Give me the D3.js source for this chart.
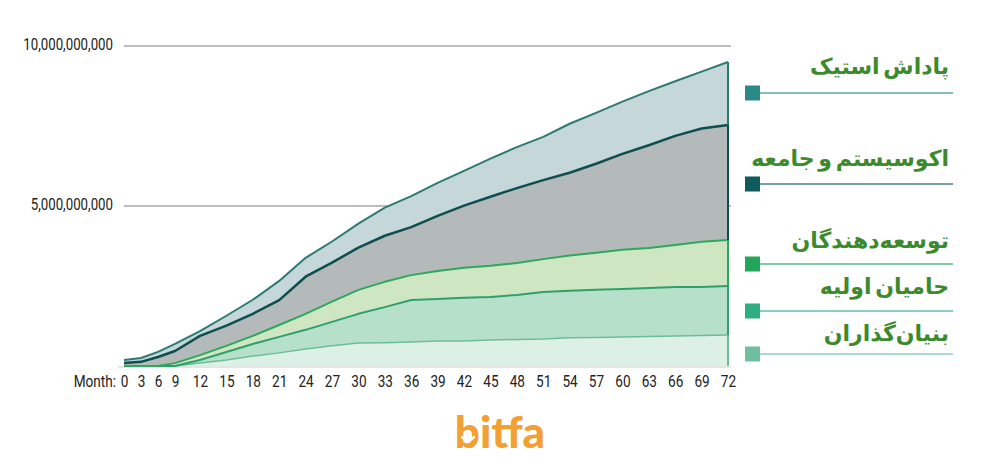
<!DOCTYPE html>
<html>
<head>
<meta charset="utf-8">
<script src="https://cdn.jsdelivr.net/npm/d3@7"></script>
<style>
  html, body { margin: 0; padding: 0; background: #ffffff; }
  svg { display: block; }
</style>
</head>
<body>
<svg id="chart" width="1000" height="467"></svg>
<script>
// ---------- DATA (billions of tokens, per layer) ----------
const months = [0,3,6,9,12,15,18,21,24,27,30,33,36,39,42,45,48,51,54,57,60,63,66,69,72];
const founders      = [0,0,0,0,0.09,0.19,0.31,0.41,0.53,0.63,0.72,0.73,0.75,0.78,0.78,0.81,0.83,0.84,0.88,0.89,0.91,0.92,0.94,0.95,0.97];
const earlyBackers  = [0,0,0,0,0.10,0.25,0.38,0.50,0.60,0.75,0.91,1.11,1.31,1.31,1.35,1.35,1.39,1.47,1.47,1.49,1.50,1.52,1.53,1.52,1.53];
const developers    = [0,0,0,0.09,0.15,0.19,0.25,0.37,0.50,0.63,0.75,0.79,0.78,0.88,0.94,0.97,1.00,1.03,1.10,1.16,1.22,1.25,1.31,1.41,1.44];
const ecosystem     = [0.09,0.13,0.28,0.38,0.60,0.63,0.69,0.78,1.16,1.22,1.32,1.44,1.50,1.72,1.94,2.16,2.34,2.47,2.59,2.78,3.00,3.21,3.41,3.54,3.59];
const stakingReward = [0.10,0.12,0.16,0.22,0.15,0.31,0.44,0.60,0.59,0.66,0.75,0.88,0.97,1.03,1.09,1.19,1.28,1.35,1.53,1.59,1.63,1.69,1.71,1.78,1.97];

const seriesKeys   = ["founders","earlyBackers","developers","ecosystem","stakingReward"];
const seriesLabels = ["بنیان‌گذاران","حامیان اولیه","توسعه‌دهندگان","اکوسیستم و جامعه","پاداش استیک"];
const yTickValues  = [5, 10];            // billions
const xAxisTitle   = "Month:";
const logoText     = "bitfa";

// ---------- STYLE ----------
const fills   = { founders:"#ddf0e5", earlyBackers:"#b7e0ca", developers:"#cfe6c2", ecosystem:"#b4b9ba", stakingReward:"#c5d7d9" };
const strokes = { founders:"#6dbd98", earlyBackers:"#2f9f6c", developers:"#2ea85c", ecosystem:"#0e4e50", stakingReward:"#2c7a70" };
const strokeW = { founders:1.5, earlyBackers:2, developers:2, ecosystem:2.5, stakingReward:2 };
const swatch  = { founders:"#6fbf9f", earlyBackers:"#2fae84", developers:"#23a659", ecosystem:"#0e5a5d", stakingReward:"#2a8888" };

// ---------- BUILD ----------
const table = months.map((m, i) => ({
  month: m,
  founders: founders[i], earlyBackers: earlyBackers[i], developers: developers[i],
  ecosystem: ecosystem[i], stakingReward: stakingReward[i]
}));
const stacked = d3.stack().keys(seriesKeys)(table);

const svg = d3.select("#chart");

const x = d3.scaleLinear().domain([0, 9, 12, 72]).range([124, 175, 200, 728]);
const y = d3.scaleLinear().domain([0, 10]).range([366, 46]);

// gridlines
svg.append("g").selectAll("line").data(yTickValues).join("line")
  .attr("x1", 124).attr("x2", 731)
  .attr("y1", d => y(d)).attr("y2", d => y(d))
  .attr("stroke", "#bdbdbd").attr("stroke-width", 2);

// baseline
svg.append("line").attr("x1", 118).attr("x2", 731).attr("y1", y(0) + 1).attr("y2", y(0) + 1)
  .attr("stroke", "#e4e6e6").attr("stroke-width", 2);

// areas
const area = d3.area().x(d => x(d.data.month)).y0(d => y(d[0])).y1(d => y(d[1]));
svg.append("g").selectAll("path").data(stacked).join("path")
  .attr("d", area).attr("fill", d => fills[d.key]);

// top lines
const line = d3.line().x(d => x(d.data.month)).y(d => y(d[1]));
svg.append("g").selectAll("path").data(stacked).join("path")
  .attr("d", line).attr("fill", "none")
  .attr("stroke", d => strokes[d.key]).attr("stroke-width", d => strokeW[d.key])
  .attr("stroke-linejoin", "round");

// right edges
svg.append("g").selectAll("line").data(stacked).join("line")
  .attr("x1", d => x(d[d.length - 1].data.month)).attr("x2", d => x(d[d.length - 1].data.month))
  .attr("y1", d => y(d[d.length - 1][0])).attr("y2", d => y(d[d.length - 1][1]))
  .attr("stroke", d => strokes[d.key]).attr("stroke-width", 2);

// y axis labels
const fmt = d3.format(",");
const yAxis = svg.append("g").attr("transform", "translate(113,0)")
  .call(d3.axisLeft(y).tickValues(yTickValues).tickSize(0).tickPadding(0).tickFormat(d => fmt(d * 1e9)));
yAxis.select(".domain").remove();
yAxis.selectAll("text")
  .attr("x", 0).attr("dy", "0.32em")
  .attr("transform", "translate(0,-2) scale(0.78,1)")
  .attr("font-family", "Roboto, 'DejaVu Sans', sans-serif").attr("font-size", 17)
  .attr("fill", "#222");

// x axis labels
const xAxis = svg.append("g").attr("transform", "translate(0,387)")
  .call(d3.axisBottom(x).tickValues(months).tickSize(0).tickPadding(0).tickFormat(d => String(d)));
xAxis.select(".domain").remove();
xAxis.selectAll("text")
  .attr("y", 0).attr("dy", 0)
  .attr("transform", "scale(0.8,1)")
  .attr("font-family", "Roboto, 'DejaVu Sans', sans-serif").attr("font-size", 17)
  .attr("fill", "#222");
svg.append("text").text(xAxisTitle)
  .attr("transform", "translate(116,387) scale(0.8,1)")
  .attr("text-anchor", "end")
  .attr("font-family", "Roboto, 'DejaVu Sans', sans-serif").attr("font-size", 17)
  .attr("fill", "#222");

// legend (top to bottom: staking ... founders)
const legendOrder = seriesKeys.slice().reverse();
const legendLabels = seriesLabels.slice().reverse();
const textY = [68, 160, 242, 288, 335];
const markY = [93, 184, 264, 311, 354];
const leg = svg.append("g").selectAll("g").data(legendOrder).join("g");
leg.append("line")
  .attr("x1", 760).attr("x2", 953)
  .attr("y1", (d, i) => markY[i]).attr("y2", (d, i) => markY[i])
  .attr("stroke", d => swatch[d]).attr("stroke-opacity", 0.75).attr("stroke-width", 1.5);
leg.append("rect")
  .attr("x", 745).attr("y", (d, i) => markY[i] - 7.5)
  .attr("width", 15).attr("height", 15)
  .attr("fill", d => swatch[d]);
leg.append("text")
  .text((d, i) => legendLabels[i])
  .attr("x", 949).attr("y", (d, i) => textY[i])
  .attr("text-anchor", "start").attr("direction", "rtl")
  .attr("dominant-baseline", "middle")
  .attr("word-spacing", -4)
  .attr("font-family", "'DejaVu Sans', sans-serif").attr("font-weight", "bold")
  .attr("font-size", 22).attr("fill", "#3d8a2c");

// logo
svg.append("text").text(logoText)
  .attr("x", 500).attr("y", 448).attr("text-anchor", "middle")
  .attr("font-family", "Lato, 'Open Sans', sans-serif").attr("font-weight", 900)
  .attr("font-size", 44).attr("fill", "#f2a033");
svg.append("path")
  .attr("d", "M462,437 Q468,444 474,437")
  .attr("fill", "none").attr("stroke", "#ffffff").attr("stroke-width", 2.2)
  .attr("stroke-linecap", "round");
</script>
</body>
</html>
